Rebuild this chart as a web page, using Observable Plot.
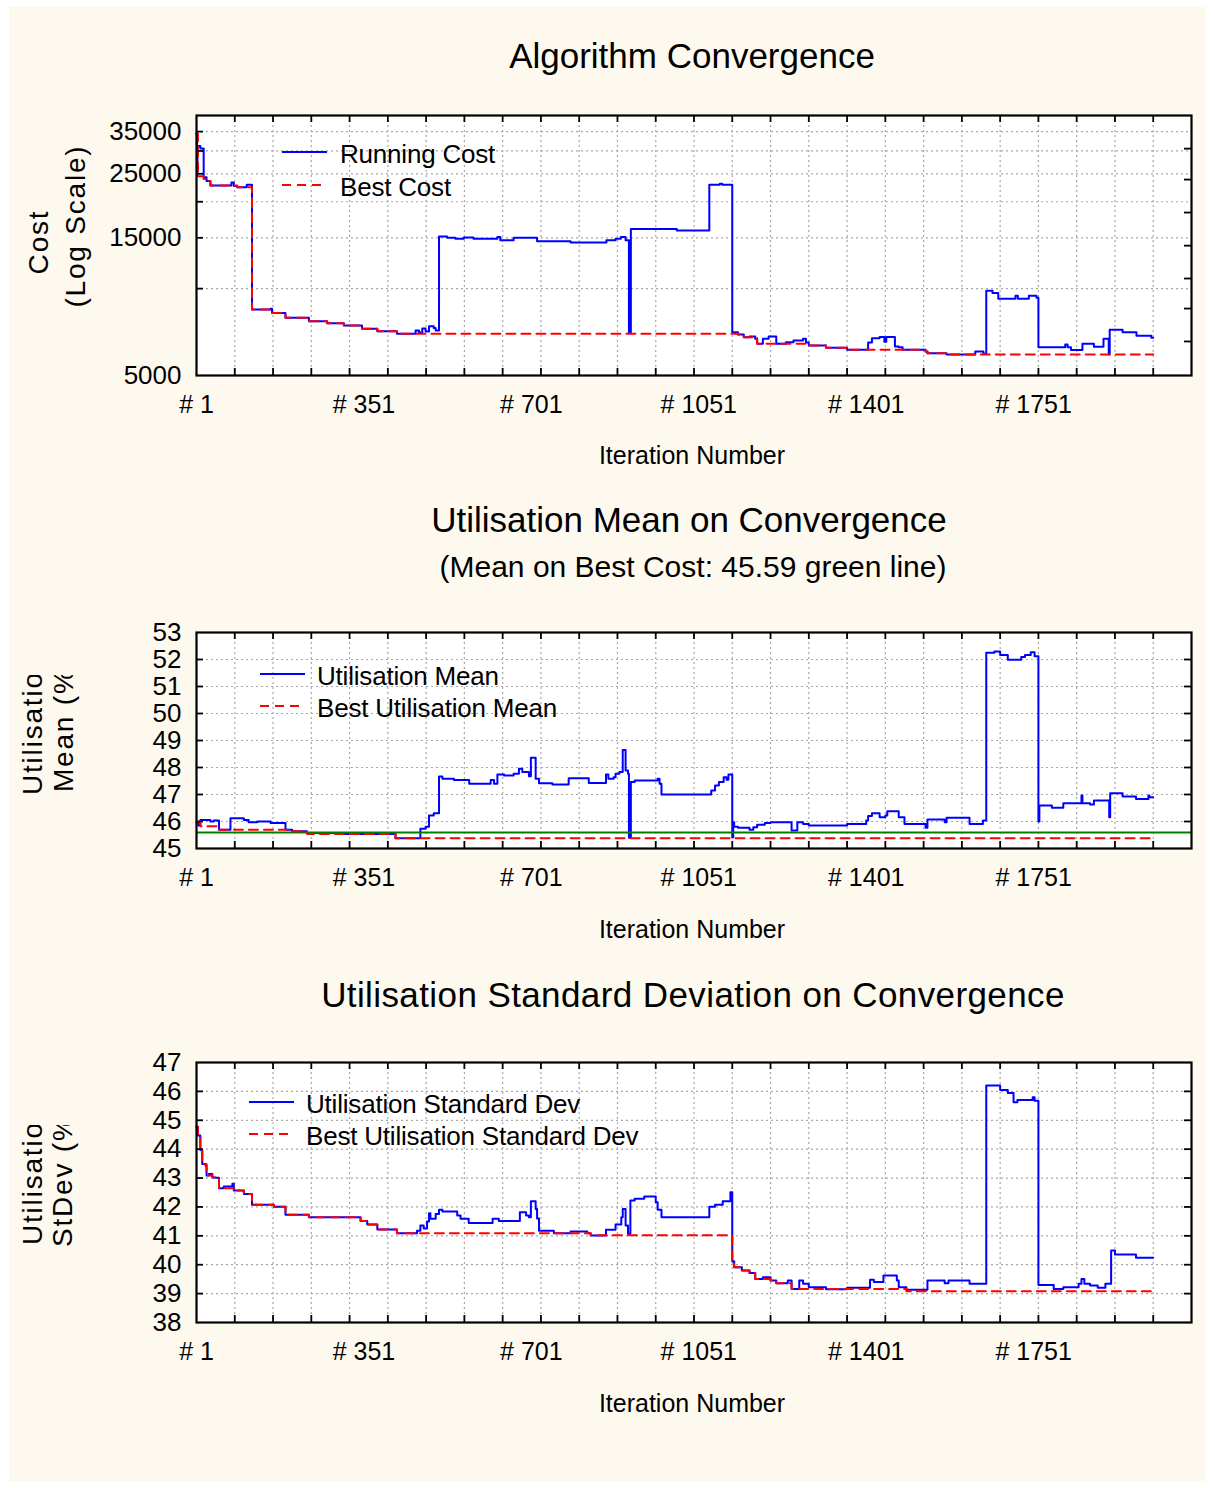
<!DOCTYPE html>
<html>
<head>
<meta charset="utf-8">
<script src="https://cdn.jsdelivr.net/npm/d3@7"></script>
<script src="https://cdn.jsdelivr.net/npm/@observablehq/plot@0.6"></script>
<style>
  html, body { margin: 0; padding: 0; background: #ffffff; }
  #page { position: relative; width: 1215px; height: 1488px; overflow: hidden; background: #ffffff;
          font-family: "Liberation Sans", Arial, Helvetica, sans-serif; }
  #cream { position: absolute; left: 9px; top: 7px; width: 1197px; height: 1474px; background: #fef9ee; }
  #overlay { position: absolute; left: 0; top: 0; pointer-events: none; }
</style>
</head>
<body>
<div id="page"><div id="cream"></div></div>
<script>
// ---------------- DATA ----------------
// x axis (iteration number)
const xDomain = [1, 2081];
const xLabelTicks = [1, 351, 701, 1051, 1401, 1751];
const xGridTicks = d3.range(81, 2081, 80);

// Chart 1: cost (log scale)  [iteration, cost]
const runningCost = [[1,34400],[2,24500],[3,31200],[9,30600],[16,24300],[22,23600],[30,22750],[74,23300],[79,22700],[86,22450],[106,22900],[117,8460],[156,8520],[159,8240],[187,7920],[236,7710],[274,7590],[309,7450],[347,7260],[379,7120],[420,6970],[459,7160],[466,7050],[473,7270],[480,7100],[487,7400],[497,7300],[501,7160],[508,15150],[525,15000],[542,14900],[560,15050],[580,14900],[630,15100],[636,14700],[664,15000],[713,14600],[783,14450],[858,14700],[877,14900],[888,15100],[898,14700],[905,7000],[909,16100],[1005,15900],[1073,22900],[1095,23100],[1100,22900],[1121,7060],[1133,6935],[1145,6790],[1157,6830],[1169,6700],[1173,6440],[1185,6700],[1197,6830],[1213,6440],[1233,6525],[1249,6610],[1269,6700],[1275,6500],[1281,6355],[1317,6240],[1361,6140],[1405,6500],[1413,6730],[1429,6800],[1439,6550],[1443,6800],[1461,6300],[1469,6270],[1477,6140],[1525,6050],[1529,5970],[1569,5910],[1629,6050],[1646,5950],[1652,9840],[1665,9650],[1677,9220],[1713,9450],[1718,9220],[1741,9450],[1757,9300],[1761,6270],[1817,6400],[1822,6270],[1829,6130],[1853,6440],[1877,6295],[1897,6700],[1908,5910],[1910,7200],[1937,7060],[1966,6870],[1997,6755],[2001,6755]];
const bestCost = [[1,34400],[4,24500],[16,24000],[22,23600],[30,22750],[86,22450],[117,8460],[159,8240],[187,7920],[236,7710],[274,7590],[309,7450],[347,7260],[379,7120],[420,6970],[1133,6935],[1145,6790],[1173,6440],[1281,6355],[1317,6240],[1361,6140],[1525,6050],[1529,5970],[1569,5910],[2001,5910]];
const costLabelTicks = [5000, 15000, 25000, 35000];
const costGridTicks = [10000, 15000, 20000, 25000, 30000, 35000];
const costRightTicks = [30550, 23870, 18350, 14090, 10840, 8530, 6560];

// Chart 2: utilisation mean (%)  [iteration, mean]
const utilMean = [[1,45.97],[5,45.85],[9,46.06],[30,46.0],[37,46.04],[48,45.69],[72,46.12],[100,46.06],[110,45.97],[128,46.0],[156,45.94],[187,45.69],[201,45.64],[232,45.57],[300,45.54],[320,45.57],[340,45.54],[417,45.38],[469,45.73],[480,45.81],[487,46.22],[497,46.31],[508,47.67],[515,47.58],[539,47.54],[571,47.40],[616,47.54],[623,47.40],[630,47.74],[644,47.70],[664,47.77],[675,47.95],[682,47.83],[696,47.68],[700,48.36],[710,47.58],[717,47.42],[745,47.37],[779,47.60],[821,47.43],[857,47.74],[862,47.58],[873,47.64],[877,47.77],[885,47.83],[892,48.65],[898,47.89],[903,47.77],[905,45.40],[909,47.46],[917,47.52],[965,47.58],[969,47.40],[973,47.0],[1077,47.15],[1085,47.33],[1093,47.46],[1103,47.64],[1109,47.55],[1113,47.74],[1121,45.42],[1123,45.97],[1125,45.81],[1133,45.77],[1157,45.69],[1165,45.79],[1173,45.88],[1189,45.94],[1201,45.97],[1245,45.67],[1257,45.97],[1269,45.91],[1281,45.85],[1361,45.91],[1401,46.04],[1405,46.2],[1413,46.31],[1429,46.16],[1441,46.22],[1445,46.38],[1469,46.16],[1481,45.91],[1525,45.77],[1529,46.07],[1565,45.97],[1569,46.14],[1617,45.91],[1645,46.04],[1652,52.25],[1669,52.30],[1681,52.17],[1697,51.99],[1725,52.09],[1733,52.17],[1745,52.27],[1753,52.12],[1761,46.0],[1763,46.59],[1789,46.51],[1813,46.68],[1851,46.96],[1853,46.68],[1869,46.63],[1877,46.78],[1909,46.16],[1911,47.05],[1937,46.93],[1965,46.83],[1991,46.96],[1993,46.90],[2001,46.90]];
const bestUtilMean = [[1,45.97],[9,45.82],[48,45.69],[201,45.64],[232,45.54],[417,45.38],[2001,45.38]];
const meanOnBestCost = 45.59;
const meanLabelTicks = [45, 46, 47, 48, 49, 50, 51, 52, 53];
const meanGridTicks = [46, 47, 48, 49, 50, 51, 52];

// Chart 3: utilisation standard deviation (%)  [iteration, sd]
const utilSd = [[1,44.78],[4,44.47],[9,43.97],[13,43.49],[20,43.43],[22,43.09],[27,43.14],[34,43.03],[37,43.01],[48,42.65],[58,42.71],[76,42.80],[79,42.57],[100,42.45],[117,42.08],[163,42.01],[187,41.73],[236,41.64],[344,41.51],[358,41.39],[379,41.22],[420,41.09],[462,41.18],[469,41.36],[476,41.25],[483,41.50],[487,41.78],[490,41.59],[501,41.76],[508,41.90],[515,41.84],[546,41.70],[553,41.59],[570,41.44],[620,41.59],[633,41.51],[664,41.51],[677,41.82],[690,41.70],[696,41.64],[700,42.20],[710,41.93],[713,41.60],[717,41.18],[748,41.09],[783,41.15],[818,41.09],[825,41.01],[857,41.21],[877,41.39],[889,41.64],[892,41.93],[898,41.36],[903,41.07],[908,42.22],[917,42.28],[937,42.36],[961,42.16],[965,41.90],[973,41.64],[1073,42.01],[1085,42.08],[1101,42.20],[1117,42.51],[1121,40.12],[1125,39.91],[1141,39.80],[1157,39.71],[1169,39.51],[1185,39.57],[1201,39.45],[1213,39.36],[1237,39.45],[1245,39.16],[1261,39.45],[1269,39.34],[1281,39.22],[1317,39.15],[1361,39.20],[1409,39.48],[1417,39.40],[1437,39.63],[1465,39.45],[1469,39.22],[1485,39.13],[1529,39.45],[1565,39.36],[1573,39.45],[1617,39.34],[1652,46.20],[1681,46.05],[1697,45.94],[1709,45.62],[1717,45.70],[1749,45.80],[1753,45.68],[1761,39.30],[1793,39.16],[1813,39.22],[1845,39.34],[1851,39.51],[1857,39.34],[1869,39.28],[1885,39.20],[1901,39.34],[1913,40.49],[1921,40.35],[1965,40.24],[2001,40.24]];
const bestUtilSd = [[1,44.78],[4,44.47],[9,43.97],[13,43.49],[22,43.09],[34,43.03],[48,42.65],[79,42.57],[100,42.45],[117,42.08],[163,42.01],[187,41.73],[236,41.64],[344,41.51],[358,41.39],[379,41.22],[420,41.09],[825,41.02],[1121,40.12],[1125,39.91],[1141,39.80],[1157,39.71],[1169,39.51],[1201,39.45],[1213,39.36],[1245,39.16],[1485,39.08],[2001,39.08]];
const sdLabelTicks = [38, 39, 40, 41, 42, 43, 44, 45, 46, 47];
const sdGridTicks = [39, 40, 41, 42, 43, 44, 45, 46];

// ---------------- LAYOUT ----------------
const FONT = '"Liberation Sans", Arial, Helvetica, sans-serif';
const W = 1215, ML = 196, MR = 24, MT = 15, MB = 62;
const innerW = W - ML - MR;
const BLUE = "#0000ff", RED = "#ff0000", GREEN = "#008000";
const LW = 2;
const DASH = "9,6";
const GRID = { stroke: "#a8a8a8", strokeOpacity: 1, strokeWidth: 1.2, strokeDasharray: "2,3" };
const page = document.getElementById("page");

function addChart(cfg) {
  const innerH = cfg.frameBottom - cfg.frameTop;
  const marks = [
    Plot.frame({ fill: "white" }),
    Plot.gridX(xGridTicks, GRID),
    Plot.gridY(cfg.grid, GRID),
    Plot.line(cfg.run, { x: d => d[0], y: d => d[1], curve: "step-after", stroke: BLUE, strokeWidth: LW })
  ];
  if (cfg.ref != null) marks.push(Plot.ruleY([cfg.ref], { stroke: GREEN, strokeWidth: 2 }));
  marks.push(
    Plot.line(cfg.best, { x: d => d[0], y: d => d[1], curve: "step-after", stroke: RED, strokeWidth: LW, strokeDasharray: DASH }),
    Plot.tickX(xGridTicks, { x: d => d, insetTop: innerH - 7, stroke: "black", strokeWidth: 1.8 }),
    Plot.tickX(xGridTicks, { x: d => d, insetBottom: innerH - 7, stroke: "black", strokeWidth: 1.8 }),
    Plot.tickY(cfg.grid, { y: d => d, insetRight: innerW - 7, stroke: "black", strokeWidth: 1.8 }),
    Plot.tickY(cfg.right, { y: d => d, insetLeft: innerW - 7, stroke: "black", strokeWidth: 1.8 }),
    Plot.frame({ stroke: "black", strokeWidth: 2.2 }),
    Plot.axisY(cfg.labels, { anchor: "left", tickSize: 0, tickPadding: 15, fontSize: 26, label: null, tickFormat: d => String(d) }),
    Plot.axisX(xLabelTicks, { anchor: "bottom", tickSize: 0, tickPadding: 20, fontSize: 25, label: null, tickFormat: d => "# " + d })
  );
  const svg = Plot.plot({
    width: W, height: innerH + MT + MB,
    marginLeft: ML, marginRight: MR, marginTop: MT, marginBottom: MB,
    style: { background: "transparent", fontFamily: FONT, color: "#000", overflow: "visible" },
    x: { type: "linear", domain: xDomain, axis: null },
    y: Object.assign({ axis: null }, cfg.y),
    marks
  });
  svg.style.position = "absolute";
  svg.style.left = "0px";
  svg.style.top = (cfg.frameTop - MT) + "px";
  page.appendChild(svg);
}

addChart({ frameTop: 115, frameBottom: 375, y: { type: "log", domain: [5000, 39800] },
  run: runningCost, best: bestCost, grid: costGridTicks, right: costRightTicks, labels: costLabelTicks });
addChart({ frameTop: 632, frameBottom: 848, y: { type: "linear", domain: [45, 53] },
  run: utilMean, best: bestUtilMean, grid: meanGridTicks, right: meanGridTicks, labels: meanLabelTicks, ref: meanOnBestCost });
addChart({ frameTop: 1062, frameBottom: 1322, y: { type: "linear", domain: [38, 47] },
  run: utilSd, best: bestUtilSd, grid: sdGridTicks, right: sdGridTicks, labels: sdLabelTicks });

// ---------------- TEXT OVERLAY (titles, axis titles, legends) ----------------
const ov = d3.select(page).append("svg").attr("id", "overlay")
  .attr("width", W).attr("height", 1488)
  .style("font-family", FONT);

function txt(s, x, y, size, anchor = "middle") {
  return ov.append("text").attr("x", x).attr("y", y).attr("font-size", size)
    .attr("text-anchor", anchor).attr("fill", "#000").text(s);
}
txt("Algorithm Convergence", 692, 68, 35);
txt("Iteration Number", 692, 464, 25);
txt("Utilisation Mean on Convergence", 689, 532, 35);
txt("(Mean on Best Cost: 45.59 green line)", 693, 577, 30);
txt("Iteration Number", 692, 938, 25);
txt("Utilisation Standard Deviation on Convergence", 693, 1007, 35).attr("letter-spacing", "0.4px");
txt("Iteration Number", 692, 1412, 25);

// rotated y-axis titles
const defs = ov.append("defs");
defs.append("clipPath").attr("id", "clipMean").append("rect").attr("x", 0).attr("y", 675).attr("width", 190).attr("height", 200);
defs.append("clipPath").attr("id", "clipSd").append("rect").attr("x", 0).attr("y", 1125).attr("width", 190).attr("height", 200);
function rtxt(s, x, y, anchor, clip) {
  const g = ov.append("g");
  if (clip) g.attr("clip-path", `url(#${clip})`);
  g.append("text").attr("transform", `translate(${x},${y}) rotate(-90)`)
    .attr("font-size", 28).attr("letter-spacing", "1.8px").attr("text-anchor", anchor).attr("fill", "#000").text(s);
}
rtxt("Cost", 48, 242, "middle");
rtxt("(Log Scale)", 85, 226, "middle");
rtxt("Utilisation", 42, 795, "start", "clipMean");
rtxt("Mean (%)", 73, 792, "start", "clipMean");
rtxt("Utilisation", 42, 1245, "start", "clipSd");
rtxt("StDev (%)", 72, 1247, "start", "clipSd");

// legends
function legend(x0, x1, xText, yBlue, yRed, labBlue, labRed) {
  ov.append("line").attr("x1", x0).attr("x2", x1).attr("y1", yBlue).attr("y2", yBlue).attr("stroke", BLUE).attr("stroke-width", LW);
  ov.append("line").attr("x1", x0).attr("x2", x1).attr("y1", yRed).attr("y2", yRed).attr("stroke", RED).attr("stroke-width", LW).attr("stroke-dasharray", DASH);
  txt(labBlue, xText, yBlue + 11, 26, "start").attr("letter-spacing", "-0.2px");
  txt(labRed, xText, yRed + 11, 26, "start").attr("letter-spacing", "-0.2px");
}
legend(282, 327, 340, 152, 185, "Running Cost", "Best Cost");
legend(260, 305, 317, 674, 706, "Utilisation Mean", "Best Utilisation Mean");
legend(249, 294, 306, 1102, 1134, "Utilisation Standard Dev", "Best Utilisation Standard Dev");
</script>
</body>
</html>
